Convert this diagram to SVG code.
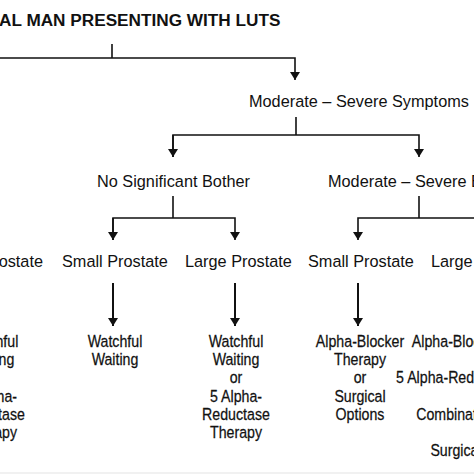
<svg xmlns="http://www.w3.org/2000/svg" width="474" height="474" viewBox="0 0 474 474">
<defs>
<style>
.t{font-family:"Liberation Sans",Arial,sans-serif;fill:#111;}
.title{font-size:17.2px;font-weight:bold;}
.lbl{font-size:16.3px;}
.c{font-size:16.5px;text-anchor:middle;stroke:#111;stroke-width:0.25;}
.ln{fill:none;stroke:#111;stroke-width:1.6;}
.ln2{fill:none;stroke:#111;stroke-width:2;}
</style>
<marker id="ah" viewBox="0 0 8 10" refX="8" refY="5" markerWidth="8" markerHeight="10" markerUnits="userSpaceOnUse" orient="auto">
<path d="M0,0 L8,5 L0,10 z" fill="#111"/>
</marker>
</defs>
<rect width="474" height="474" fill="#fff"/>
<rect x="0" y="472" width="474" height="2" fill="#f1f1f1"/>

<g id="connectors">
<path class="ln" d="M112,44 V58"/>
<path class="ln" d="M-10,58 H295 V80" marker-end="url(#ah)"/>
<path class="ln" d="M296,117 V135"/>
<path class="ln" d="M173,157 V135 H419 V157" marker-end="url(#ah)"/>
<path class="ln" d="M173,135 V157" marker-end="url(#ah)"/>
<path class="ln" d="M173,196 V218"/>
<path class="ln" d="M113,240 V218 H235 V240" marker-end="url(#ah)"/>
<path class="ln" d="M113,218 V240" marker-end="url(#ah)"/>
<path class="ln" d="M419,196 V218"/>
<path class="ln" d="M480,218 H358 V240" marker-end="url(#ah)"/>
<path class="ln2" d="M113,283 V326" marker-end="url(#ah)"/>
<path class="ln2" d="M235,283 V326" marker-end="url(#ah)"/>
<path class="ln2" d="M358,283 V326" marker-end="url(#ah)"/>
</g>

<g id="title"><text class="t title" x="-1" y="26">AL MAN PRESENTING WITH LUTS</text></g>
<g id="mod-severe-symptoms"><text class="t lbl" x="249" y="107">Moderate – Severe Symptoms</text></g>
<g id="no-bother"><text class="t lbl" x="97" y="187">No Significant Bother</text></g>
<g id="mod-severe-bother"><text class="t lbl" x="328" y="187">Moderate – Severe Bother</text></g>
<g id="large-prostate-left"><text class="t lbl" x="43" y="267" text-anchor="end">Large Prostate</text></g>
<g id="small-prostate-1"><text class="t lbl" x="62" y="267">Small Prostate</text></g>
<g id="large-prostate-1"><text class="t lbl" x="185" y="267">Large Prostate</text></g>
<g id="small-prostate-2"><text class="t lbl" x="308" y="267">Small Prostate</text></g>
<g id="large-prostate-2"><text class="t lbl" x="431" y="267">Large Prostate</text></g>

<g id="out-left" transform="translate(-9,0) scale(0.86,1)">
<text class="t c" x="0" y="347">Watchful</text>
<text class="t c" x="0" y="365.2">Waiting</text>
<text class="t c" x="0" y="383.4">or</text>
<text class="t c" x="0" y="401.6">5 Alpha-</text>
<text class="t c" x="0" y="419.8">Reductase</text>
<text class="t c" x="0" y="438">Therapy</text>
</g>
<g id="out-watchful" transform="translate(115,0) scale(0.86,1)">
<text class="t c" x="0" y="347">Watchful</text>
<text class="t c" x="0" y="365.2">Waiting</text>
</g>
<g id="out-watchful-5ari" transform="translate(236,0) scale(0.86,1)">
<text class="t c" x="0" y="347">Watchful</text>
<text class="t c" x="0" y="365.2">Waiting</text>
<text class="t c" x="0" y="383.4">or</text>
<text class="t c" x="0" y="401.6">5 Alpha-</text>
<text class="t c" x="0" y="419.8">Reductase</text>
<text class="t c" x="0" y="438">Therapy</text>
</g>
<g id="out-alpha-blocker" transform="translate(360,0) scale(0.86,1)">
<text class="t c" x="0" y="347">Alpha-Blocker</text>
<text class="t c" x="0" y="365.2">Therapy</text>
<text class="t c" x="0" y="383.4">or</text>
<text class="t c" x="0" y="401.6">Surgical</text>
<text class="t c" x="0" y="419.8">Options</text>
</g>
<g id="out-right" transform="translate(456,0) scale(0.86,1)">
<text class="t c" x="0" y="347">Alpha-Blocker</text>
<text class="t c" x="0" y="383.4">5 Alpha-Reductase</text>
<text class="t c" x="0" y="419.8">Combination</text>
<text class="t c" x="0" y="456.2">Surgical</text>
</g>
</svg>
